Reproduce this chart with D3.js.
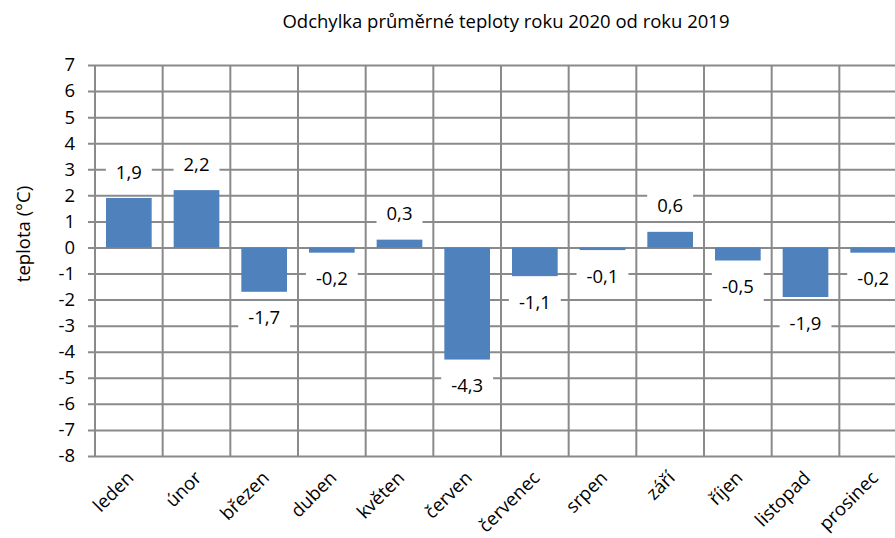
<!DOCTYPE html>
<html>
<head>
<meta charset="utf-8">
<script src="https://cdnjs.cloudflare.com/ajax/libs/d3/7.8.5/d3.min.js"></script>
<style>
    body { margin: 0; background: #fff; }
    text { font-family: "Open Sans", sans-serif; fill: #000; }
</style>
</head>
<body>
<script>
//SVG dimension variables
var w = 895, h = 538;

//data
var months = ["leden", "únor", "březen", "duben", "květen", "červen",
    "červenec", "srpen", "září", "říjen", "listopad", "prosinec"];
var deviation = [1.9, 2.2, -1.7, -0.2, 0.3, -4.3, -1.1, -0.1, 0.6, -0.5, -1.9, -0.2];
var yTicks = [-8, -7, -6, -5, -4, -3, -2, -1, 0, 1, 2, 3, 4, 5, 6, 7];

var chartTitle = "Odchylka průměrné teploty roku 2020 od roku 2019";
var yTitle = "teplota (°C)";

var fontSize = "18.5px";

window.onload = function(){

    var svg = d3.select("body")
        .append("svg")
        .attr("width", w)
        .attr("height", h);

    //czech number format - comma decimal, plain hyphen minus
    var cz = d3.formatLocale({decimal: ",", thousands: " ", grouping: [3], currency: ["", " Kč"], minus: "-"});
    var fmt1 = cz.format(".1f");
    var fmt0 = cz.format("d");

    //plot area runs past the right edge of the picture
    var left = 95, right = 907, top = 65, bottom = 456;

    var x = d3.scaleBand()
        .domain(months)
        .range([left, right])
        .paddingInner(0.325)
        .paddingOuter(0.1625);

    var y = d3.scaleLinear()
        .domain([-8, 7])
        .range([bottom, top]);

    var step = x.step();

    //horizontal gridlines + tick labels from the axis generator
    var yAxis = d3.axisLeft(y)
        .tickValues(yTicks)
        .tickFormat(fmt0)
        .tickSizeInner(-(right - left + 7))
        .tickSizeOuter(0)
        .tickPadding(13);

    var yG = svg.append("g")
        .attr("class", "yaxis")
        .attr("transform", "translate(" + (left - 7) + ",0)")
        .call(yAxis);
    yG.select(".domain").remove();
    yG.selectAll("line")
        .attr("stroke", "#8a8a8a")
        .attr("stroke-width", 2);
    yG.selectAll("text")
        .style("font-size", fontSize)
        .style("font-family", "'Open Sans', sans-serif")
        .attr("fill", "#000");

    //vertical gridlines between categories
    svg.selectAll(".vgrid")
        .data(d3.range(months.length + 1))
        .enter()
        .append("line")
        .attr("class", "vgrid")
        .attr("x1", function(d){ return left + d * step; })
        .attr("x2", function(d){ return left + d * step; })
        .attr("y1", top)
        .attr("y2", bottom)
        .attr("stroke", "#8a8a8a")
        .attr("stroke-width", 2);

    //bars
    svg.selectAll(".bar")
        .data(deviation)
        .enter()
        .append("rect")
        .attr("class", "bar")
        .attr("x", function(d, i){ return x(months[i]); })
        .attr("width", x.bandwidth())
        .attr("y", function(d){ return Math.min(y(d), y(0)); })
        .attr("height", function(d){ return Math.abs(y(d) - y(0)); })
        .style("fill", "#4f81bd");

    //category labels, rotated
    var xG = svg.append("g")
        .attr("class", "xaxis")
        .attr("transform", "translate(0," + bottom + ")")
        .call(d3.axisBottom(x).tickSize(0));
    xG.select(".domain").remove();
    xG.selectAll("text")
        .attr("x", 0)
        .attr("y", 0)
        .attr("dy", 0)
        .attr("text-anchor", "end")
        .attr("transform", "translate(6,23) rotate(-45)")
        .style("font-size", fontSize)
        .style("font-family", "'Open Sans', sans-serif")
        .attr("fill", "#000");

    //value labels with white boxes
    var labels = svg.selectAll(".vlabel")
        .data(deviation)
        .enter()
        .append("g")
        .attr("class", "vlabel")
        .attr("transform", function(d, i){
            var cx = x(months[i]) + x.bandwidth() / 2;
            var cy = d >= 0 ? y(d) - 26 : y(d) + 26;
            return "translate(" + cx + "," + cy + ")";
        });

    labels.append("rect")
        .attr("fill", "#fff");

    var texts = labels.append("text")
        .attr("text-anchor", "middle")
        .attr("dy", "0.36em")
        .style("font-size", fontSize)
        .text(function(d){ return fmt1(d); });

    texts.each(function(){
        var bw = this.getComputedTextLength() + 20;
        d3.select(this.previousSibling)
            .attr("x", -bw / 2)
            .attr("y", -15)
            .attr("width", bw)
            .attr("height", 30);
    });

    //chart title
    svg.append("text")
        .attr("x", 506)
        .attr("y", 28)
        .attr("text-anchor", "middle")
        .style("font-size", fontSize)
        .text(chartTitle);

    //y axis title
    svg.append("text")
        .attr("transform", "translate(30,234) rotate(-90)")
        .attr("text-anchor", "middle")
        .style("font-size", fontSize)
        .text(yTitle);
};
</script>
</body>
</html>
